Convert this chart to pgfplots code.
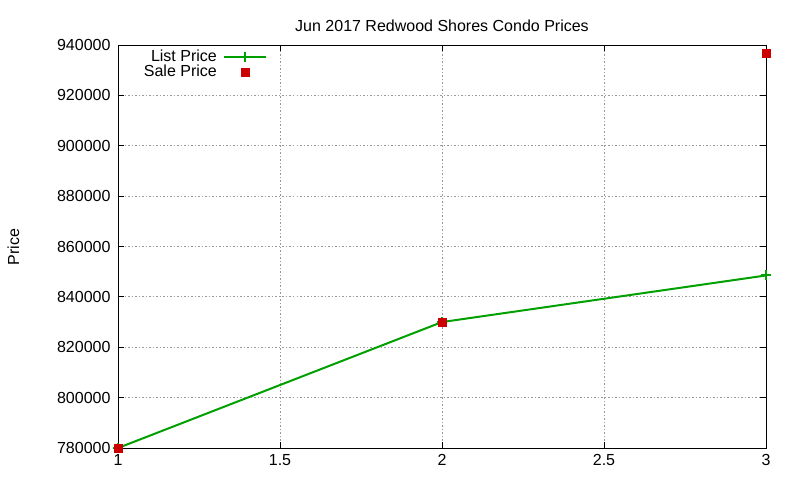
\documentclass[border=0pt]{standalone}
\usepackage{pgfplots}
\pgfplotsset{compat=1.18}
\usepackage{fontspec}
\setmainfont{Liberation Sans}
\definecolor{listgreen}{RGB}{0,160,0}
\definecolor{salered}{RGB}{204,0,0}
\newcommand{\chartfont}{\fontsize{16bp}{19bp}\selectfont}
\begin{document}
\chartfont
\begin{tikzpicture}
\useasboundingbox (-118bp,-32bp) rectangle (682bp,448bp);
\begin{axis}[
  scale only axis, width=648bp, height=403bp,
  xmin=1, xmax=3, ymin=780000, ymax=940000,
  xtick={1,1.5,2,2.5,3},
  xticklabels={1,1.5,2,2.5,3},
  ytick={780000,800000,820000,840000,860000,880000,900000,920000,940000},
  yticklabels={780000,800000,820000,840000,860000,880000,900000,920000,940000},
  scaled y ticks=false,
  tick label style={font=\chartfont},
  yticklabel style={xshift=-2bp},
  xticklabel style={yshift=-1bp},
  tick align=inside, major tick length=6bp,
  tick style={black, line width=0.9bp},
  axis line style={black, line width=0.9bp},
  grid=major,
  major grid style={gray!80, dash pattern=on 1.5bp off 2bp, line width=0.9bp},
  title={Jun 2017 Redwood Shores Condo Prices},
  title style={font=\chartfont, yshift=2bp},
  ylabel={Price},
  ylabel style={font=\chartfont, at={(-118bp,201bp)}, anchor=north, yshift=-2bp},
  legend style={at={(0.032,0.998)}, anchor=north west, draw=none, fill=none,
    row sep=-3bp, font=\chartfont},
  legend cell align=right,
  legend plot pos=right,
]
\addplot[listgreen, line width=2bp, mark=+, mark size=5bp,
  legend image code/.code={
    \path (0bp,0bp);
    \draw[listgreen, line width=2bp] (4bp,0bp) -- (46bp,0bp);
    \draw[listgreen, line width=2bp] (25bp,-5bp) -- (25bp,5bp);
  }] coordinates {
  (1,780000) (2,830000) (3,848500)
};
\addlegendentry{List Price}
\addplot[only marks, mark=square*, mark size=4bp, salered,
  legend image code/.code={
    \path (0bp,0bp);
    \fill[salered] (21bp,-4bp) rectangle (29bp,4bp);
  }] coordinates {
  (1,780000) (2,830000) (3,936800)
};
\addlegendentry{Sale Price}
\end{axis}
\end{tikzpicture}
\end{document}
